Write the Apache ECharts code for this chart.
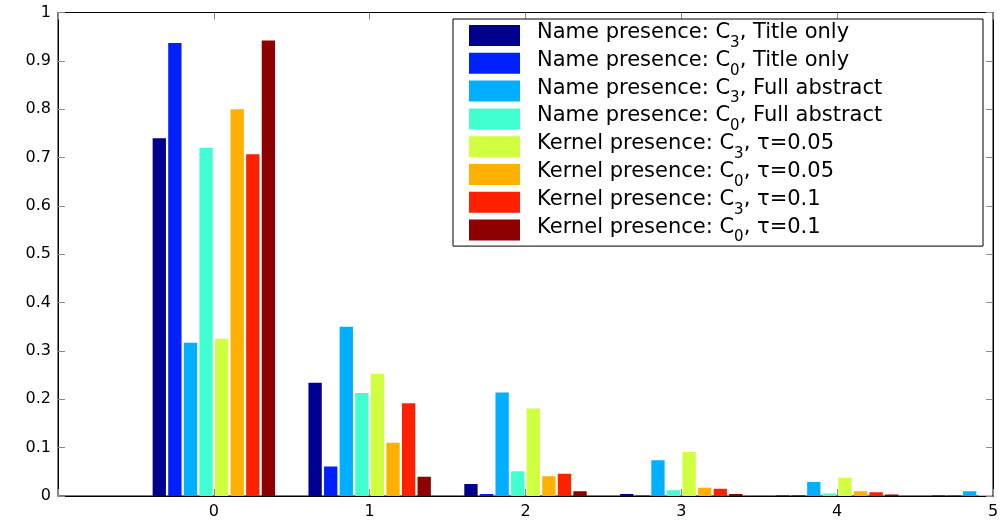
<!DOCTYPE html>
<html>
<head>
<meta charset="utf-8">
<script src="https://cdn.jsdelivr.net/npm/echarts@6/dist/echarts.min.js"></script>
<style>
html,body{margin:0;padding:0;background:#fff;}
#chart{width:1002px;height:524px;}
</style>
</head>
<body>
<div id="chart"></div>
<script>
// x positions of the bar groups
var categories = [0, 1, 2, 3, 4, 5];
// x axis range and tick labels
var xTicks = [-1, 0, 1, 2, 3, 4, 5];
var yTicks = [0, 0.1, 0.2, 0.3, 0.4, 0.5, 0.6, 0.7, 0.8, 0.9, 1];

var seriesNames = [
  'Name presence: C3, Title only',
  'Name presence: C0, Title only',
  'Name presence: C3, Full abstract',
  'Name presence: C0, Full abstract',
  'Kernel presence: C3, τ=0.05',
  'Kernel presence: C0, τ=0.05',
  'Kernel presence: C3, τ=0.1',
  'Kernel presence: C0, τ=0.1'
];
var seriesColors = ['#00008F', '#0020FF', '#00AFFF', '#40FFD0', '#D0FF40', '#FFB000', '#FF2000', '#8F0000'];

// values for categories 0..5
var nameC3Title    = [0.740, 0.234, 0.025, 0.004, 0.001, 0.001];
var nameC0Title    = [0.937, 0.061, 0.004, 0.001, 0.0015, 0.001];
var nameC3Full     = [0.317, 0.350, 0.214, 0.074, 0.029, 0.010];
var nameC0Full     = [0.720, 0.213, 0.051, 0.012, 0.005, 0.002];
var kernelC3t005   = [0.325, 0.253, 0.181, 0.091, 0.038, 0.015];
var kernelC0t005   = [0.800, 0.110, 0.041, 0.017, 0.010, 0.004];
var kernelC3t01    = [0.707, 0.192, 0.046, 0.015, 0.008, 0.004];
var kernelC0t01    = [0.942, 0.040, 0.010, 0.004, 0.003, 0.001];

var allValues = [nameC3Title, nameC0Title, nameC3Full, nameC0Full, kernelC3t005, kernelC0t005, kernelC3t01, kernelC0t01];

var FONT = 'DejaVu Sans';
var BAR_STEP = 0.1;     // spacing between bars of a group, in x units
var BAR_WIDTH = 0.0854; // bar width, in x units

var chart = echarts.init(document.getElementById('chart'), null, {renderer: 'canvas'});

function makeRenderItem(i, n) {
  return function (params, api) {
    var x = api.value(0);
    var v = api.value(1);
    var unit = api.size([1, 0])[0];
    var base = api.coord([x, 0]);
    var top = api.coord([x, v]);
    var w = unit * BAR_WIDTH;
    var cx = base[0] + unit * BAR_STEP * (i - (n - 1) / 2);
    var cs = params.coordSys;
    var shape = echarts.graphic.clipRectByRect(
      {x: cx - w / 2, y: top[1], width: w, height: base[1] - top[1]},
      {x: cs.x, y: cs.y, width: cs.width, height: cs.height}
    );
    if (!shape) return null;
    return {type: 'rect', shape: shape, style: api.style()};
  };
}

var series = allValues.map(function (vals, i) {
  return {
    name: seriesNames[i],
    type: 'custom',
    xAxisIndex: 0,
    yAxisIndex: 0,
    renderItem: makeRenderItem(i, allValues.length),
    encode: {x: 0, y: 1},
    data: categories.map(function (c, k) { return [c, vals[k]]; }),
    itemStyle: {color: seriesColors[i]},
    emphasis: {disabled: true},
    clip: true
  };
});

var tickStyle = {show: true, inside: true, length: 7, lineStyle: {color: '#8a8a8a', width: 1}};

chart.setOption({
  animation: false,
  backgroundColor: '#fff',
  grid: {left: 58, right: 9, top: 12.5, bottom: 28, show: true, borderColor: '#000', borderWidth: 1,
         backgroundColor: 'transparent', containLabel: false, outerBoundsMode: 'none'},
  legend: {
    orient: 'vertical',
    left: 453,
    top: 19,
    icon: 'rect',
    itemWidth: 51,
    itemHeight: 21,
    itemGap: -1.7,
    padding: [2, 16, 1, 16],
    borderColor: '#000',
    borderWidth: 1,
    backgroundColor: '#fff',
    selectedMode: false,
    data: seriesNames,
    formatter: function (name) {
      return name.replace(/C(\d)/, 'C{sub|$1}');
    },
    textStyle: {
      fontFamily: FONT,
      fontSize: 21,
      color: '#000',
      lineHeight: 23,
      width: 430,
      padding: [0, 0, 6, 12],
      rich: {
        sub: {fontFamily: FONT, fontSize: 15, color: '#000', height: 2, lineHeight: 23, verticalAlign: 'bottom'}
      }
    }
  },
  xAxis: [{
    type: 'value',
    min: xTicks[0],
    max: xTicks[xTicks.length - 1],
    interval: 1,
    position: 'bottom',
    axisLine: {show: true, onZero: false, lineStyle: {color: '#000', width: 1}},
    axisTick: tickStyle,
    splitLine: {show: false},
    axisLabel: {
      show: true, margin: 8, fontFamily: FONT, fontSize: 16, color: '#000',
      showMinLabel: true, showMaxLabel: true,
      formatter: function (v) { return v === xTicks[0] ? '' : String(v); }
    }
  }, {
    type: 'value',
    min: xTicks[0],
    max: xTicks[xTicks.length - 1],
    interval: 1,
    position: 'top',
    axisLine: {show: true, onZero: false, lineStyle: {color: '#000', width: 1}},
    axisTick: tickStyle,
    axisLabel: {show: false},
    splitLine: {show: false}
  }],
  yAxis: [{
    type: 'value',
    min: yTicks[0],
    max: yTicks[yTicks.length - 1],
    interval: 0.1,
    position: 'left',
    axisLine: {show: true, onZero: false, lineStyle: {color: '#000', width: 1}},
    axisTick: tickStyle,
    splitLine: {show: false},
    axisLabel: {show: true, margin: 7, fontFamily: FONT, fontSize: 16, color: '#000'}
  }, {
    type: 'value',
    min: yTicks[0],
    max: yTicks[yTicks.length - 1],
    interval: 0.1,
    position: 'right',
    axisLine: {show: true, onZero: false, lineStyle: {color: '#000', width: 1}},
    axisTick: tickStyle,
    splitLine: {show: false},
    axisLabel: {show: false}
  }],
  series: series
});
</script>
</body>
</html>
